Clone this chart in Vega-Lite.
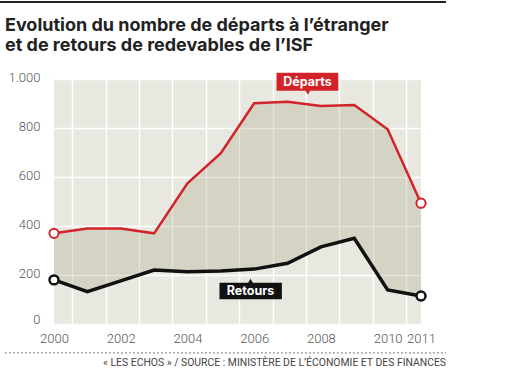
{
  "$schema": "https://vega.github.io/schema/vega-lite/v6.json",
  "width": 367,
  "height": 245,
  "autosize": {"type": "none"},
  "padding": {"left": 54, "top": 79, "right": 88, "bottom": 52},
  "background": "#ffffff",
  "config": {
    "view": {"fill": "#e9e8e0", "stroke": null},
    "font": "Roboto",
    "axis": {"labelFont": "Roboto", "labelColor": "#555555", "labelFontSize": 13, "labelFontWeight": 300, "domain": false, "ticks": false, "title": null, "labelFlush": false}
  },
  "datasets": {
    "isf": [
      {"year": 2000, "departs": 370, "retours": 180},
      {"year": 2001, "departs": 390, "retours": 132},
      {"year": 2002, "departs": 390, "retours": 176},
      {"year": 2003, "departs": 370, "retours": 220},
      {"year": 2004, "departs": 574, "retours": 213},
      {"year": 2005, "departs": 697, "retours": 216},
      {"year": 2006, "departs": 901, "retours": 224},
      {"year": 2007, "departs": 907, "retours": 248},
      {"year": 2008, "departs": 890, "retours": 315},
      {"year": 2009, "departs": 894, "retours": 350},
      {"year": 2010, "departs": 795, "retours": 139},
      {"year": 2011, "departs": 493, "retours": 114}
    ],
    "one": [{}]
  },
  "resolve": {"axis": {"x": "independent"}},
  "layer": [
    {
      "data": {"name": "isf"},
      "mark": {"type": "area", "color": "#96946f", "opacity": 0.25},
      "encoding": {
        "x": {"field": "year", "type": "quantitative", "scale": {"domain": [2000, 2011], "nice": false, "zero": false},
              "axis": {"orient": "bottom", "values": [2000.55, 2001.55, 2002.55, 2003.55, 2004.55, 2005.55, 2006.55, 2007.55, 2008.55, 2009.55, 2010.55], "labels": false, "grid": true, "gridColor": "#ffffff", "gridWidth": 1.5, "gridOpacity": 1}},
        "y": {"field": "departs", "type": "quantitative", "scale": {"domain": [0, 1000], "nice": false},
              "axis": {"values": [0, 200, 400, 600, 800, 1000], "grid": true, "gridColor": "#ffffff", "gridWidth": 1.5, "gridOpacity": 1, "labelPadding": 14, "labelOffset": {"condition": {"test": "datum.value == 0", "value": -5}, "value": -2}, "labelExpr": "datum.value == 1000 ? '1.000' : datum.label"}},
        "y2": {"field": "retours"}
      }
    },
    {
      "data": {"name": "isf"},
      "mark": {"type": "line", "color": "#d2232a", "strokeWidth": 2.5},
      "encoding": {
        "x": {"field": "year", "type": "quantitative",
              "axis": {"orient": "bottom", "values": [2000, 2002, 2004, 2006, 2008, 2010, 2011], "format": "d", "grid": false, "labelPadding": 8, "labelOverlap": false, "labelFlush": false}},
        "y": {"field": "departs", "type": "quantitative"}
      }
    },
    {
      "data": {"name": "isf"},
      "mark": {"type": "line", "color": "#111111", "strokeWidth": 3.5},
      "encoding": {
        "x": {"field": "year", "type": "quantitative", "axis": null},
        "y": {"field": "retours", "type": "quantitative"}
      }
    },
    {
      "data": {"name": "isf"},
      "transform": [{"filter": "datum.year == 2000 || datum.year == 2011"}],
      "mark": {"type": "point", "shape": "circle", "filled": true, "fill": "#ffffff", "stroke": "#d2232a", "strokeWidth": 2, "size": 85, "opacity": 1},
      "encoding": {
        "x": {"field": "year", "type": "quantitative", "axis": null},
        "y": {"field": "departs", "type": "quantitative"}
      }
    },
    {
      "data": {"name": "isf"},
      "transform": [{"filter": "datum.year == 2000 || datum.year == 2011"}],
      "mark": {"type": "point", "shape": "circle", "filled": true, "fill": "#ffffff", "stroke": "#111111", "strokeWidth": 2.5, "size": 80, "opacity": 1},
      "encoding": {
        "x": {"field": "year", "type": "quantitative", "axis": null},
        "y": {"field": "retours", "type": "quantitative"}
      }
    },
    {
      "data": {"name": "one"},
      "mark": {"type": "rect", "color": "#d2232a"},
      "encoding": {"x": {"datum": 2006.67, "axis": null}, "x2": {"datum": 2008.52}, "y": {"datum": 1026}, "y2": {"datum": 952}}
    },
    {
      "data": {"name": "one"},
      "mark": {"type": "point", "shape": "triangle-down", "filled": true, "color": "#d2232a", "size": 30, "opacity": 1},
      "encoding": {"x": {"datum": 2007.61, "axis": null}, "y": {"datum": 945}}
    },
    {
      "data": {"name": "one"},
      "mark": {"type": "text", "text": "Départs", "color": "#ffffff", "font": "Inter", "fontWeight": "bold", "fontSize": 12.5, "align": "center", "baseline": "middle"},
      "encoding": {"x": {"datum": 2007.6, "axis": null}, "y": {"datum": 989}}
    },
    {
      "data": {"name": "one"},
      "mark": {"type": "rect", "color": "#111111"},
      "encoding": {"x": {"datum": 2004.96, "axis": null}, "x2": {"datum": 2006.83}, "y": {"datum": 168.6}, "y2": {"datum": 100.8}}
    },
    {
      "data": {"name": "one"},
      "mark": {"type": "point", "shape": "triangle-up", "filled": true, "color": "#111111", "size": 30, "opacity": 1},
      "encoding": {"x": {"datum": 2005.89, "axis": null}, "y": {"datum": 175}}
    },
    {
      "data": {"name": "one"},
      "mark": {"type": "text", "text": "Retours", "color": "#ffffff", "font": "Inter", "fontWeight": "bold", "fontSize": 12.5, "align": "center", "baseline": "middle"},
      "encoding": {"x": {"datum": 2005.89, "axis": null}, "y": {"datum": 134.7}}
    },
    {
      "data": {"name": "one"},
      "mark": {"type": "rule", "color": "#222222", "strokeWidth": 2},
      "encoding": {"x": {"datum": 1998.38, "axis": null}, "x2": {"datum": 2011.75}, "y": {"datum": 1314}}
    },
    {
      "data": {"name": "one"},
      "mark": {"type": "text", "text": ["Evolution du nombre de départs à l’étranger", "et de retours de redevables de l’ISF"], "color": "#222222", "font": "Inter", "fontSize": 18, "fontWeight": "bold", "align": "left", "baseline": "alphabetic", "lineHeight": 20},
      "encoding": {"x": {"datum": 1998.53, "axis": null}, "y": {"datum": 1197}}
    },
    {
      "data": {"name": "one"},
      "mark": {"type": "rule", "color": "#777777", "strokeWidth": 1, "strokeDash": [2, 2]},
      "encoding": {"x": {"datum": 1998.53, "axis": null}, "x2": {"datum": 2011.75}, "y": {"datum": -118}}
    },
    {
      "data": {"name": "one"},
      "mark": {"type": "text", "text": "« LES ECHOS » / SOURCE : MINISTÈRE DE L’ÉCONOMIE ET DES FINANCES", "color": "#444444", "font": "Roboto", "fontSize": 10.4, "align": "right", "baseline": "middle"},
      "encoding": {"x": {"datum": 2011.75, "axis": null}, "y": {"datum": -159}}
    }
  ]
}
